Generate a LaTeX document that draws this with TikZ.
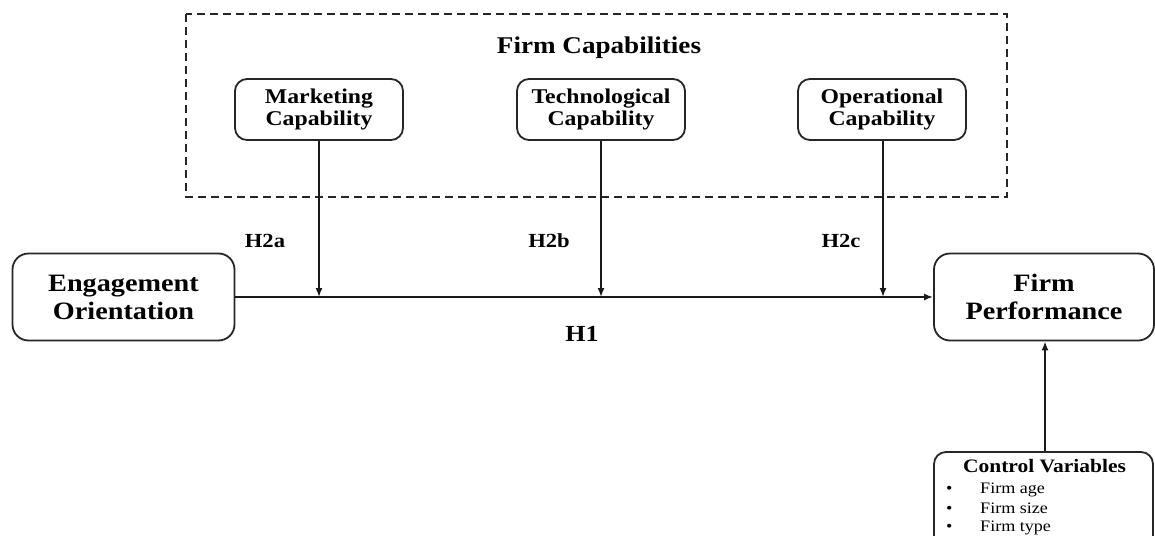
\documentclass[tikz,border=0pt]{standalone}
\usepackage{fontspec}
\setmainfont{Liberation Serif}[FakeStretch=1.13]
\usetikzlibrary{arrows.meta}
\begin{document}
\begin{tikzpicture}[x=1pt,y=-1pt,
  box/.style={draw=black!85,line width=1.8pt,rounded corners=12pt,inner sep=0pt,align=center},
  bigbox/.style={box,rounded corners=16pt,minimum width=222pt,minimum height=87pt,
     font=\bfseries\fontsize{25}{28}\selectfont},
  capbox/.style={box,minimum width=168pt,minimum height=61pt,
     font=\bfseries\fontsize{21}{22}\selectfont},
  arr/.style={draw=black!90,line width=1.7pt,-{Latex[length=9pt,width=7pt]}},
  mainarr/.style={arr,line width=2.3pt},
  hlabel/.style={anchor=base,font=\bfseries\fontsize{20}{22}\selectfont},
  item/.style={anchor=base west,font=\fontsize{16}{18}\selectfont,inner sep=0pt}]
\useasboundingbox (0,0) rectangle (1155,535);

% group of firm capabilities
\draw[black!85,line width=2pt,dash pattern=on 8pt off 5pt] (186,14) rectangle (1007,197);
\node[anchor=base,font=\bfseries\fontsize{24}{26}\selectfont] (fc) at (599,53) {Firm Capabilities};

\node[capbox] (mkt) at (319,109.5) {Marketing\\Capability};
\node[capbox] (tec) at (601,109.5) {Technological\\Capability};
\node[capbox] (opc) at (882,109.5) {Operational\\Capability};

% main constructs
\node[bigbox] (eng) at (123.5,297) {Engagement\\Orientation};
\node[bigbox,minimum width=220pt] (fp) at (1044,297) {Firm\\Performance};

% control variables
\node[box,minimum width=219pt,minimum height=96pt] (ctrl) at (1043.5,500) {};
\node[anchor=base,font=\bfseries\fontsize{19}{21}\selectfont,inner sep=0pt] (ctt) at (1044.5,472) {Control Variables};
\node[item] (b1) at (946,493) {\textbullet};
\node[item] (i1) at (980,493) {Firm age};
\node[item] (b2) at (946,513) {\textbullet};
\node[item] (i2) at (980,513) {Firm size};
\node[item] (b3) at (946,531) {\textbullet};
\node[item] (i3) at (980,531) {Firm type};

% paths
\draw[mainarr] (eng.east) -- (fp.west);
\draw[arr] (mkt.south) -- (mkt.south |- eng.east);
\draw[arr] (tec.south) -- (tec.south |- eng.east);
\draw[arr] (opc.south -| 883,0) -- (883,297);
\draw[arr] (ctrl.north -| 1045,0) -- (fp.south -| 1045,0);

% hypothesis labels
\node[hlabel] (h2a) at (265,247) {H2a};
\node[hlabel] (h2b) at (549,247) {H2b};
\node[hlabel] (h2c) at (841,247) {H2c};
\node[hlabel,font=\bfseries\fontsize{23}{25}\selectfont] (h1) at (582,341) {H1};
\end{tikzpicture}
\end{document}
